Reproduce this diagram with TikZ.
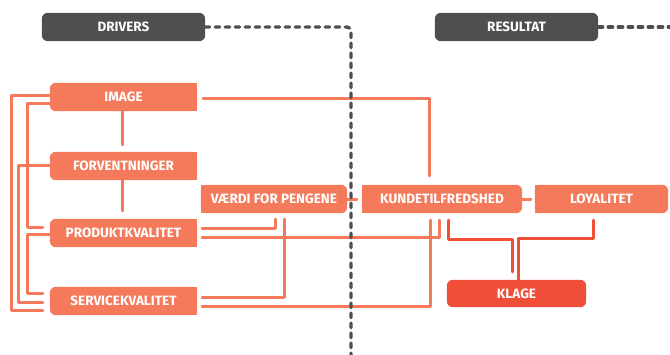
\documentclass[tikz,border=0pt]{standalone}
\usepackage{fontspec}
\setmainfont{Fira Sans}
\usetikzlibrary{backgrounds}
\definecolor{orng}{HTML}{F47A5B}
\definecolor{rd}{HTML}{EF4F39}
\definecolor{drk}{HTML}{4F4F4F}
\newcommand\fillLeftRound[2]{\fill[#2,rounded corners=6pt] (#1.south west) rectangle (#1.north east); \fill[#2] (#1.south) rectangle (#1.north east);}
\newcommand\fillRightRound[2]{\fill[#2,rounded corners=6pt] (#1.south west) rectangle (#1.north east); \fill[#2] (#1.south west) rectangle (#1.north);}
\newcommand\fillAllRound[2]{\fill[#2,rounded corners=6pt] (#1.south west) rectangle (#1.north east);}
\begin{document}
\begin{tikzpicture}[x=1pt,y=-1pt,
  lbl/.style={text=white,font=\bfseries\fontsize{13.5}{13.5}\selectfont,inner sep=0pt,minimum height=28pt},
  conn/.style={draw=orng,line width=3pt,line cap=round,line join=round},
  rconn/.style={draw=rd,line width=3pt,line cap=round,line join=round},
  dsh/.style={draw=drk,line width=3.4pt,line cap=round,dash pattern=on 4.5pt off 5.5pt,rounded corners=4pt}]
\useasboundingbox (0,0) rectangle (670,354);
% nodes
\node[lbl,minimum width=163pt] (drivers) at (123.5,27) {DRIVERS};
\node[lbl,minimum width=163pt] (resultat) at (516.5,27) {RESULTAT};
\node[lbl,minimum width=147pt] (image) at (123.5,97) {IMAGE};
\node[lbl,minimum width=147pt] (forv) at (123.5,166) {FORVENTNINGER};
\node[lbl,minimum width=147pt] (pk) at (123.5,233) {PRODUKTKVALITET};
\node[lbl,minimum width=147pt] (sk) at (123.5,301) {SERVICEKVALITET};
\node[lbl,minimum width=146pt] (vaerdi) at (274,199) {VÆRDI FOR PENGENE};
\node[lbl,minimum width=160pt] (kunde) at (442,199) {KUNDETILFREDSHED};
\node[lbl,minimum width=133pt] (loyal) at (601.5,199) {LOYALITET};
\node[lbl,minimum width=139pt,minimum height=27pt] (klage) at (516.5,293.5) {KLAGE};
\coordinate (dend) at (351,356);
\coordinate (rend) at (672,27);
\begin{scope}[on background layer]
\fillAllRound{drivers}{drk}
\fillAllRound{resultat}{drk}
\fillLeftRound{image}{orng}
\fillLeftRound{forv}{orng}
\fillLeftRound{pk}{orng}
\fillLeftRound{sk}{orng}
\fillRightRound{vaerdi}{orng}
\fillRightRound{kunde}{orng}
\fillRightRound{loyal}{orng}
\fillAllRound{klage}{rd}
\end{scope}
% left connectors
\draw[conn] ([yshift=2pt]image.west) -- ++(-38,0) |- ([xshift=-7pt,yshift=-9pt]sk.west);
\draw[conn] ([yshift=-6pt]image.west) -- ++(-22,0) |- ([xshift=-7pt,yshift=6pt]pk.west);
\draw[conn] ([yshift=1pt]forv.west) -- ++(-31,0) |- ([xshift=-7pt,yshift=-1pt]sk.west);
\draw[conn] ([yshift=-1pt]pk.west) -- ++(-22,0) |- ([xshift=-7pt,yshift=8pt]sk.west);
% vertical chain
\draw[conn] ([xshift=-1.5pt]image.south) -- ([xshift=-1.5pt,yshift=7pt]forv.north);
\draw[conn] ([xshift=-1.5pt]forv.south) -- ([xshift=-1.5pt,yshift=8pt]pk.north);
% right connectors
\draw[conn] ([xshift=6pt,yshift=-1pt]image.east) -| ([xshift=-13pt,yshift=9pt]kunde.north);
\draw[conn] (vaerdi.east) -- ([xshift=-5pt]kunde.west);
\draw[conn] (kunde.east) -- ([xshift=-4pt]loyal.west);
\draw[conn] ([xshift=5pt,yshift=5pt]pk.east) -| ([xshift=1pt,yshift=-6pt]vaerdi.south);
\draw[conn] ([xshift=5pt,yshift=4pt]sk.east) -| ([xshift=10pt,yshift=-6pt]vaerdi.south);
\draw[conn] ([xshift=5pt,yshift=-4.5pt]pk.east) -| ([xshift=-3pt,yshift=-7pt]kunde.south);
\draw[conn] ([xshift=5pt,yshift=-5pt]sk.east) -| ([xshift=-12pt,yshift=-7pt]kunde.south);
% red connectors
\draw[rconn] ([xshift=6pt,yshift=-7pt]kunde.south) -- ++(0,19) -| ([xshift=-4.5pt,yshift=8pt]klage.north);
\draw[rconn] ([xshift=1.5pt]klage.north) -- ++(0,-41) -| ([xshift=-8.5pt,yshift=-7pt]loyal.south);
% dashed
\draw[dsh] (drivers.east) -| (dend);
\draw[dsh] (resultat.east) -- (rend);
\end{tikzpicture}
\end{document}
